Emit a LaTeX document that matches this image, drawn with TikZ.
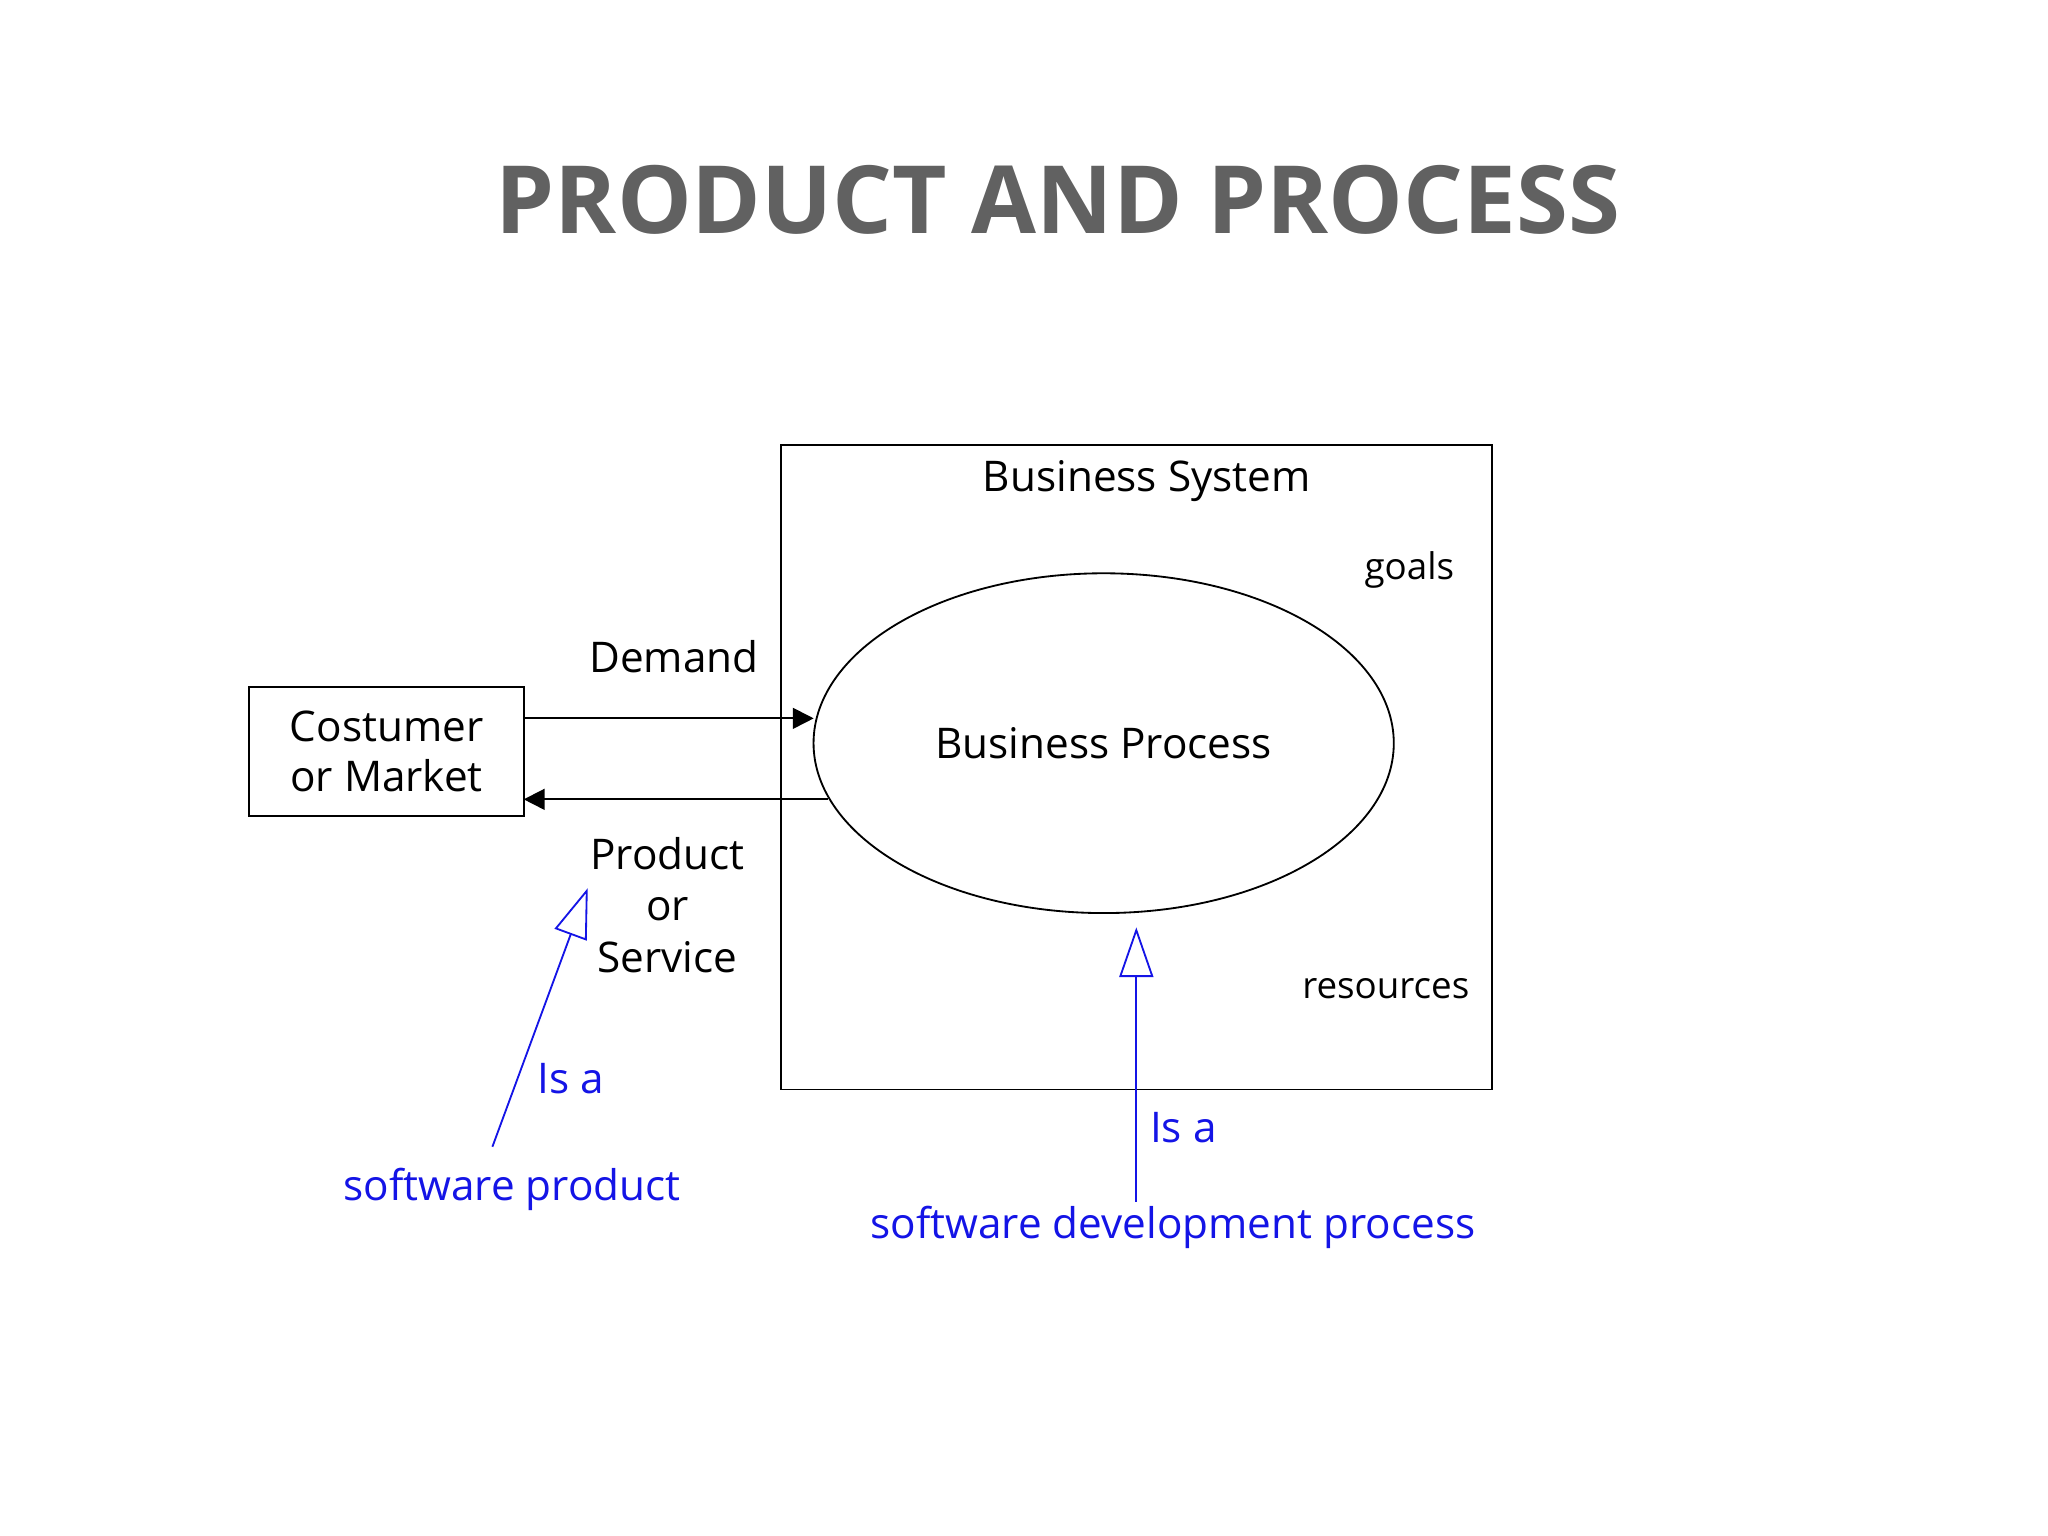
\documentclass[tikz,border=0pt]{standalone}
\usepackage{fontspec}
\setmainfont{Open Sans}
\usetikzlibrary{arrows.meta,shapes.geometric}
\definecolor{blu}{RGB}{20,20,230}
\begin{document}
\begin{tikzpicture}[x=0.01cm,y=-0.01cm,
  lbl/.style={font=\fontsize{9.2pt}{10.8pt}\selectfont,inner sep=0pt,align=center},
  slbl/.style={font=\fontsize{8pt}{10pt}\selectfont,inner sep=0pt,align=center},
  blbl/.style={lbl,text=blu},
  isa/.style={draw=blu,-{Triangle[open,length=0.38cm,width=0.26cm]}}]
\useasboundingbox (0,0) rectangle (1568,1176);
\node[font=\fontsize{20.5pt}{24pt}\selectfont\bfseries,text=black!62] (title) at (810,153) {PRODUCT AND PROCESS};
\node[draw,minimum width=5.44cm,minimum height=4.93cm,inner sep=0pt] (sys) at (870,587.5) {};
\node[lbl] (syst) at (878,368) {Business System};
\node[draw,ellipse,minimum width=4.44cm,minimum height=2.6cm,inner sep=0pt] (bp) at (845,569) {};
\node[lbl] (bpt) at (845,569) {Business Process};
\node[slbl] (goals) at (1079,436) {goals};
\node[slbl] (res) at (1061,757) {resources};
\node[draw,minimum width=2.1cm,minimum height=0.99cm,inner sep=0pt,lbl] (cm) at (296,575.5) {Costumer\\or Market};
\node[lbl] (dem) at (516,503) {Demand};
\node[lbl,font=\fontsize{9.2pt}{11.3pt}\selectfont] (pos) at (511,693) {Product\\or\\Service};
\coordinate (d1) at (401,550); \coordinate (d2) at (623,550);
\draw[-{Triangle[length=0.16cm,width=0.16cm]}] (d1) -- (d2);
\coordinate (p1) at (634,612); \coordinate (p2) at (401,612);
\draw[-{Triangle[length=0.16cm,width=0.16cm]}] (p1) -- (p2);
\coordinate (a1) at (377,878); \coordinate (a2) at (450,680);
\draw[isa] (a1) -- (a2);
\node[blbl] (isa1) at (437,826) {Is a};
\node[blbl] (sp) at (392,911) {software product};
\coordinate (b1) at (870,920); \coordinate (b2) at (870,710);
\draw[isa] (b1) -- (b2);
\node[blbl] (isa2) at (906,863) {Is a};
\node[blbl] (sdp) at (898,940) {software development process};
\end{tikzpicture}
\end{document}
